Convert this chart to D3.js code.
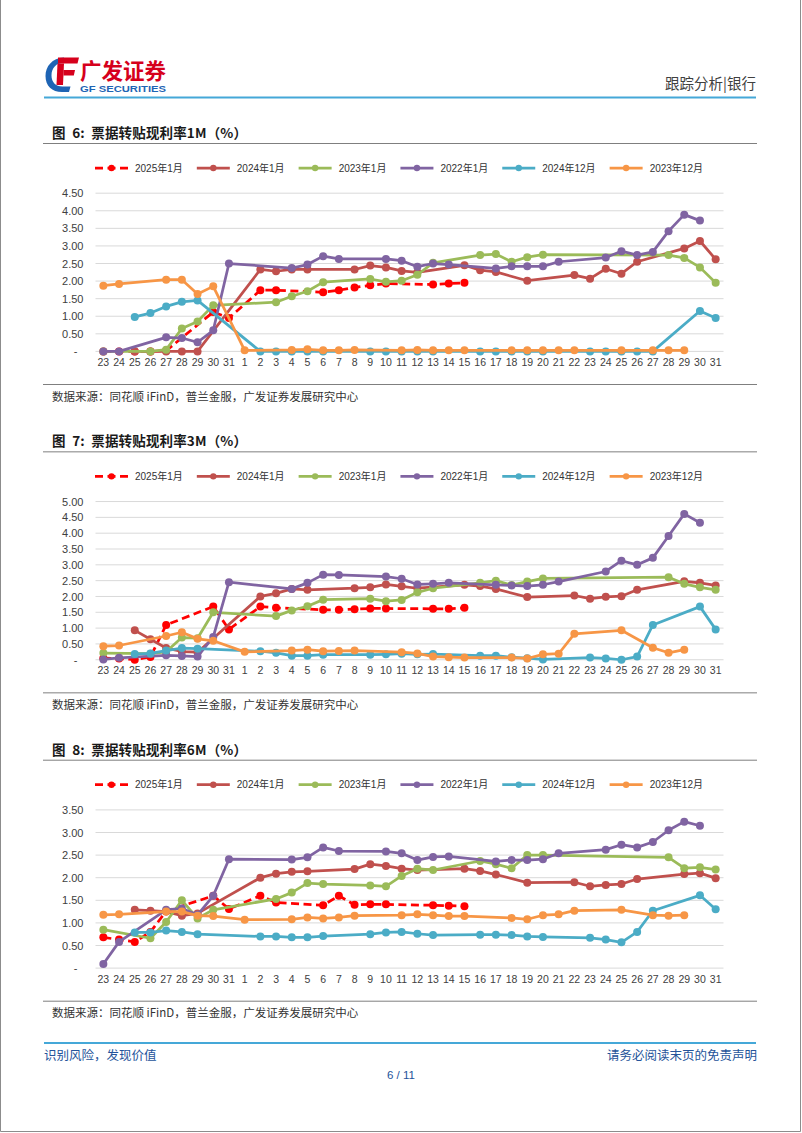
<!DOCTYPE html>
<html>
<head>
<meta charset="utf-8">
<script src="https://cdn.jsdelivr.net/npm/d3@7"></script>
<style>
  body { margin: 0; background: #fff; }
  svg { display: block; }
  text { font-family: "Liberation Sans", Arial, "Noto Sans CJK SC", sans-serif; }
  .cjk { font-family: "Noto Sans CJK SC", "Liberation Sans", sans-serif; }
</style>
</head>
<body>
<svg id="page" width="802" height="1133"></svg>
<script>
const N = null;
// x-axis categories: 23..31 of previous month, then 1..31
const days = ["23","24","25","26","27","28","29","30","31",
  "1","2","3","4","5","6","7","8","9","10","11","12","13","14","15","16","17","18","19","20",
  "21","22","23","24","25","26","27","28","29","30","31"];

const seriesNames = ["2025年1月","2024年1月","2023年1月","2022年1月","2024年12月","2023年12月"];
const seriesColors = ["#FF0000","#C0504D","#9BBB59","#8064A2","#4BACC6","#F79646"];
const seriesDashed = [true,false,false,false,false,false];

// ---------- 1M ----------
const r1M = [0,0,0,0,0.02,N,N,1.12,0.95,
  N,1.74,1.74,N,N,1.68,1.74,1.82,1.88,1.93, N,N,1.90,1.93,1.95,N,N,N,N,N, N,N,N,N,N,N,N,N,N,N, N];
const b1M = [N,N,0,0,0,0,0,N,N,
  N,2.33,2.28,2.33,2.33,N,N,2.33,2.44,2.39, 2.29,2.25,N,N,2.45,2.31,2.26,N,2.01,N, N,2.17,2.07,2.35,2.21,2.55,N,N,2.93,3.14, 2.62];
const g1M = [0,N,N,0,0.05,0.65,0.85,1.31,N,
  N,N,1.40,1.57,1.71,1.97,N,N,2.06,1.98, 2.01,2.18,2.52,N,N,2.74,2.77,2.55,2.68,2.75, N,N,N,N,N,N,N,2.74,2.66,2.39, 1.95];
const p1M = [0,0,N,N,0.40,0.38,0.26,0.60,2.50,
  N,N,N,2.37,2.47,2.71,2.63,N,N,2.63, 2.58,2.41,2.50,2.47,N,N,2.36,2.42,2.42,2.42, 2.55,N,N,2.67,2.85,2.74,2.83,3.42,3.89,3.72, N];
const t1M = [N,N,0.98,1.09,1.28,1.41,1.45,N,N,
  N,0,0,0,0,0,N,N,0,0, 0,0,0,N,N,0,0,0,0,0, N,N,0,0,0,0,0,N,N,1.15, 0.95];
const o1M = [1.87,1.92,N,N,2.04,2.04,1.63,1.85,N,
  0.03,N,N,0.04,0.06,0.03,0.03,0.04,N,N, 0.03,0.04,0.03,0.03,0.03,N,N,0.03,0.03,0.03, 0.03,0.03,N,N,0.03,N,0.03,0.03,0.03,N, N];

// ---------- 3M ----------
const r3M = [0.05,0.04,0,0.09,1.10,N,N,1.68,0.96,
  N,1.68,1.64,N,N,1.58,1.58,1.60,1.62,1.62, N,N,1.61,1.61,1.64,N,N,N,N,N, N,N,N,N,N,N,N,N,N,N, N];
const b3M = [N,N,0.93,0.65,0.37,0.26,0.24,N,N,
  N,2.00,2.10,2.24,2.21,N,N,2.26,2.29,2.38, 2.32,2.26,N,N,2.37,2.33,2.24,N,1.98,N, N,2.03,1.93,1.99,2.01,2.21,N,N,2.48,2.43, 2.35];
const g3M = [0.21,N,N,0.19,0.25,0.70,0.68,1.50,N,
  N,N,1.38,1.56,1.69,1.90,N,N,1.93,1.85, 1.89,2.13,2.26,N,N,2.43,2.50,2.36,2.47,2.57, N,N,N,N,N,N,N,2.61,2.40,2.29, 2.21];
const p3M = [0.01,0.06,N,N,0.14,0.12,0.10,0.72,2.45,
  N,N,N,2.24,2.43,2.69,2.68,N,N,2.63, 2.56,2.38,2.40,2.43,N,N,2.37,2.35,2.33,2.37, 2.47,N,N,2.79,3.13,3.00,3.22,3.91,4.61,4.33, N];
const t3M = [N,N,0.18,0.20,0.29,0.37,0.35,N,N,
  N,0.27,0.22,0.13,0.13,0.16,N,N,0.16,0.17, 0.19,0.17,0.18,N,N,0.13,0.13,0.08,0.05,0.01, N,N,0.07,0.04,0.00,0.10,1.10,N,N,1.68, 0.96];
const o3M = [0.43,0.45,N,N,0.75,0.87,0.66,0.60,N,
  0.25,N,N,0.29,0.32,0.27,0.28,0.29,N,N, 0.24,0.20,0.10,0.08,0.07,N,N,0.07,0.04,0.17, 0.19,0.82,N,N,0.93,N,0.38,0.22,0.32,N, N];

// ---------- 6M ----------
const r6M = [0.68,0.63,0.58,0.80,1.26,N,N,1.60,1.31,
  N,1.60,1.45,N,N,1.39,1.60,1.40,1.41,1.41, N,N,1.39,1.38,1.37,N,N,N,N,N, N,N,N,N,N,N,N,N,N,N, N];
const b6M = [N,N,1.29,1.27,1.25,1.16,1.21,N,N,
  N,2.00,2.09,2.13,2.14,N,N,2.19,2.30,2.26, 2.20,2.17,N,N,2.20,2.15,2.07,N,1.89,N, N,1.90,1.81,1.84,1.86,1.97,N,N,2.08,2.10, 1.99];
const g6M = [0.85,N,N,0.66,1.02,1.50,1.10,1.29,N,
  N,N,1.53,1.67,1.88,1.86,N,N,1.83,1.81, 2.04,2.20,2.17,N,N,2.37,2.30,2.21,2.50,2.50, N,N,N,N,N,N,N,2.45,2.21,2.23, 2.18];
const p6M = [0.09,0.58,N,N,1.29,1.32,1.18,1.60,2.41,
  N,N,N,2.40,2.45,2.67,2.59,N,N,2.58, 2.54,2.39,2.46,2.47,N,N,2.36,2.39,2.39,2.41, 2.54,N,N,2.62,2.73,2.67,2.79,3.05,3.24,3.15, N];
const t6M = [N,N,0.79,0.79,0.83,0.80,0.75,N,N,
  N,0.70,0.70,0.68,0.68,0.71,N,N,0.75,0.79, 0.80,0.76,0.73,N,N,0.74,0.74,0.73,0.70,0.69, N,N,0.67,0.63,0.57,0.80,1.27,N,N,1.61, 1.30];
const o6M = [1.18,1.19,N,N,1.25,1.25,1.16,1.15,N,
  1.07,N,N,1.08,1.12,1.10,1.12,1.16,N,N, 1.17,1.19,1.17,1.15,1.15,N,N,1.11,1.08,1.17, 1.19,1.27,N,N,1.29,N,1.17,1.16,1.17,N, N];

const chartTitles = ["图  6:  票据转贴现利率1M（%）", "图  7:  票据转贴现利率3M（%）", "图  8:  票据转贴现利率6M（%）"];
const chartMax = [4.5, 5.0, 3.5];
const chartSeries = [
  [r1M, b1M, g1M, p1M, t1M, o1M],
  [r3M, b3M, g3M, p3M, t3M, o3M],
  [r6M, b6M, g6M, p6M, t6M, o6M]
];
const sourceText = "数据来源：同花顺 iFinD，普兰金服，广发证券发展研究中心";

const svg = d3.select("#page");
svg.append("rect").attr("width", 802).attr("height", 1133).attr("fill", "#fff");

// page frame
svg.append("path").attr("d", "M0.5,0 V1131.5 H800.5 V0").attr("fill", "none").attr("stroke", "#8c8c8c").attr("stroke-width", 1);

// ---------- header ----------
const logo = svg.append("g");
logo.append("path")
  .attr("d", "M64,57.5 C52,58 45.5,66.5 45.5,76 C45.5,86 52,92 62,92 L69,92 L70.5,86.5 L62.5,86.5 C55.5,86.5 51.5,82 51.5,75.5 C51.5,68 56,63 64,62.5 Z")
  .attr("fill", "#1E64B4");
logo.append("path").attr("d", "M58,57.5 L79,57.5 L77.5,63.5 L58,63.5 Z").attr("fill", "#D6001C");
logo.append("path").attr("d", "M57.5,63.5 L64,63.5 L63,85 L56.5,85 Z").attr("fill", "#D6001C");
logo.append("path").attr("d", "M63.5,70 L75,70 L73.8,75.5 L63.5,75.5 Z").attr("fill", "#D6001C");
svg.append("text").attr("class", "cjk").attr("x", 80).attr("y", 79)
  .attr("font-size", 21.5).attr("font-weight", "bold").attr("fill", "#D6001C").text("广发证券");
svg.append("text").attr("x", 80).attr("y", 92)
  .attr("font-size", 9.5).attr("font-weight", "bold").attr("fill", "#1E64B4")
  .attr("textLength", 86).attr("lengthAdjust", "spacingAndGlyphs").text("GF SECURITIES");
svg.append("text").attr("class", "cjk").attr("x", 756).attr("y", 89).attr("text-anchor", "end")
  .attr("font-size", 14.5).attr("fill", "#404040").text("跟踪分析|银行");
svg.append("line").attr("x1", 44).attr("x2", 756).attr("y1", 97.5).attr("y2", 97.5)
  .attr("stroke", "#45A8D8").attr("stroke-width", 2);

// ---------- footer ----------
svg.append("line").attr("x1", 44).attr("x2", 756).attr("y1", 1043).attr("y2", 1043)
  .attr("stroke", "#45A8D8").attr("stroke-width", 2);
svg.append("text").attr("class", "cjk").attr("x", 44).attr("y", 1060)
  .attr("font-size", 12.5).attr("fill", "#24539A").text("识别风险，发现价值");
svg.append("text").attr("class", "cjk").attr("x", 757).attr("y", 1060).attr("text-anchor", "end")
  .attr("font-size", 12.5).attr("fill", "#24539A").text("请务必阅读末页的免责声明");
svg.append("text").attr("x", 401).attr("y", 1079).attr("text-anchor", "middle")
  .attr("font-size", 11.5).attr("fill", "#24539A").text("6 / 11");

// ---------- charts ----------
const plotLeft = 95.5, plotRight = 723.5, plotTop = 193.2, plotBottom = 351.4;

chartTitles.forEach((title, ci) => {
  const oy = ci * 308.35;
  const g = svg.append("g").attr("transform", `translate(0,${oy})`);

  g.append("text").attr("class", "cjk").attr("x", 52).attr("y", 138)
    .attr("font-size", 13.5).attr("font-weight", "bold").attr("fill", "#1a1a1a")
    .style("white-space", "pre")
    .attr("textLength", 195).attr("lengthAdjust", "spacing")
    .text(title);
  g.append("line").attr("x1", 43).attr("x2", 757).attr("y1", 143.5).attr("y2", 143.5)
    .attr("stroke", "#7f7f7f").attr("stroke-width", 1);

  g.append("line").attr("x1", 43).attr("x2", 757).attr("y1", 384.5).attr("y2", 384.5)
    .attr("stroke", "#7f7f7f").attr("stroke-width", 1);
  g.append("text").attr("class", "cjk").attr("x", 52).attr("y", 400.5)
    .attr("font-size", 11.5).attr("fill", "#333").text(sourceText);

  const x = d3.scaleBand().domain(d3.range(days.length)).range([plotLeft, plotRight]);
  const xc = i => x(i) + x.bandwidth() / 2;
  const y = d3.scaleLinear().domain([0, chartMax[ci]]).range([plotBottom, plotTop]);
  const ticks = d3.range(0, chartMax[ci] + 1e-9, 0.5);

  // gridlines
  g.append("g").selectAll("line").data(ticks).join("line")
    .attr("x1", plotLeft).attr("x2", plotRight)
    .attr("y1", d => y(d)).attr("y2", d => y(d))
    .attr("stroke", "#D9D9D9").attr("stroke-width", 1);

  // y axis
  const ya = g.append("g").attr("transform", `translate(${plotLeft},0)`)
    .call(d3.axisLeft(y).tickValues(ticks).tickSize(0).tickPadding(12)
      .tickFormat(d => d === 0 ? "-" : d3.format(".2f")(d)));
  ya.select(".domain").remove();
  ya.attr("font-family", null).attr("font-size", null);
  ya.selectAll("text").attr("font-size", 11).attr("fill", "#404040");
  ya.selectAll(".tick").filter(d => d === 0).select("text")
    .attr("x", -20).attr("text-anchor", "middle");

  // x axis
  const xa = g.append("g").attr("transform", `translate(0,${plotBottom})`)
    .call(d3.axisBottom(x).tickFormat(i => days[i]).tickSize(0).tickPadding(7));
  xa.select(".domain").remove();
  xa.attr("font-family", null).attr("font-size", null);
  xa.selectAll("text").attr("font-size", 10.5).attr("fill", "#404040");

  // series
  const line = d3.line().x(d => xc(d.i)).y(d => y(d.v));
  chartSeries[ci].forEach((vals, si) => {
    const pts = vals.map((v, i) => ({ i, v })).filter(d => d.v !== null);
    const sg = g.append("g");
    sg.append("path").datum(pts).attr("d", line)
      .attr("fill", "none").attr("stroke", seriesColors[si]).attr("stroke-width", 2.75)
      .attr("stroke-linejoin", "round")
      .attr("stroke-linecap", seriesDashed[si] ? "butt" : "round")
      .attr("stroke-dasharray", seriesDashed[si] ? "8,4.5" : null);
    sg.selectAll("circle").data(pts).join("circle")
      .attr("cx", d => xc(d.i)).attr("cy", d => y(d.v)).attr("r", 4)
      .attr("fill", seriesColors[si]);
  });

  // legend
  const lg = g.append("g");
  let lx = 95;
  const ly = 168;
  seriesNames.forEach((name, si) => {
    lg.append("line").attr("x1", lx).attr("x2", lx + 33).attr("y1", ly).attr("y2", ly)
      .attr("stroke", seriesColors[si]).attr("stroke-width", 2.75)
      .attr("stroke-dasharray", seriesDashed[si] ? "8,4.5" : null);
    lg.append("circle").attr("cx", lx + 16.5).attr("cy", ly).attr("r", 3.2).attr("fill", seriesColors[si]);
    const t = lg.append("text").attr("x", lx + 40).attr("y", ly + 3.6)
      .attr("font-size", 10).attr("fill", "#333").text(name);
    const w = t.node().getComputedTextLength();
    lx = lx + 40 + w + 14;
  });
});
</script>
</body>
</html>
